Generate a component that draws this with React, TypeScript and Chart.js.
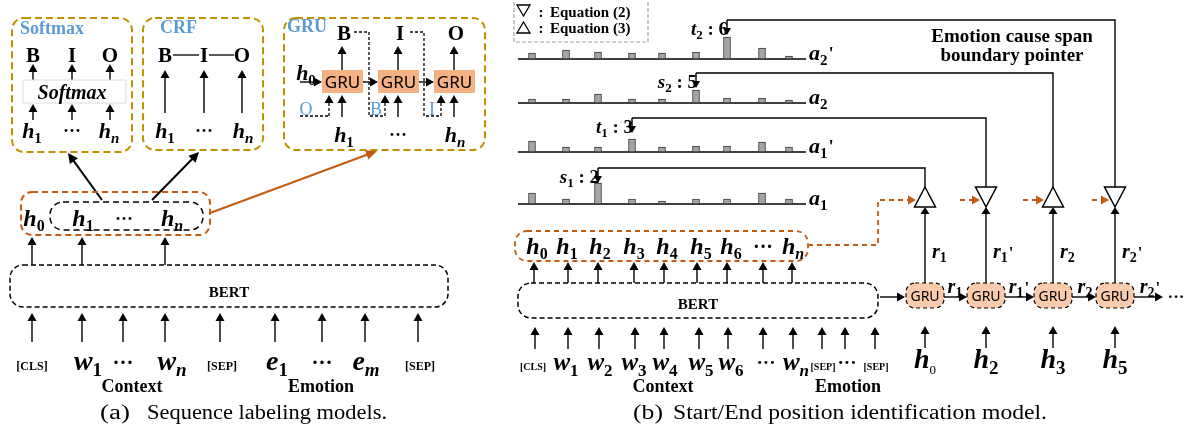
import React, { useEffect, useRef } from "react";
import { Chart, registerables } from "chart.js";

Chart.register(...registerables);

const W = 1187;
const H = 444;

// ---------------- data ----------------
const seqTokensLeft = ["[CLS]", "w1", "…", "wn", "[SEP]", "e1", "…", "em", "[SEP]"];
const hRowSubs = ["0", "1", "2", "3", "4", "5", "6", "…", "n"];
const seqTokensRight = ["[CLS]", "w1", "w2", "w3", "w4", "w5", "w6", "…", "wn", "[SEP]", "…", "[SEP]"];
const barRowNames = ["a1", "a1'", "a2", "a2'"];
const a1Scores = [11, 5, 21, 5, 3, 5, 5, 11, 5];
const a1PrimeScores = [11, 5, 5, 13, 5, 6, 6, 10, 5];
const a2Scores = [4, 4, 9, 4, 4, 13, 5, 5, 3];
const a2PrimeScores = [6, 9, 7, 6, 6, 7, 22, 11, 3];
const pointerVars = ["s", "t", "s", "t"];
const pointerSubs = ["1", "1", "2", "2"];
const pointerIndex = [2, 3, 5, 6];
const decoderSymbols = ["up", "down", "up", "down"];
const decoderRSubs = ["1", "1", "2", "2"];
const decoderRPrime = [false, true, false, true];
const decoderInputs = ["0", "2", "3", "5"];
const labelSet = ["B", "I", "O"];
const gruPrevLabels = ["O", "B", "I"];

// ---------------- layout ----------------
const SERIF = '"Liberation Serif", "Times New Roman", serif';
const SANS = '"Noto Sans", "Open Sans", sans-serif';
const GOLD = "#BF9000";
const BLUE = "#5B9BD5";
const ORANGE = "#C55A11";
const GRU_FILL_L = "#F4B183";
const GRU_FILL_R = "#F8CBAD";

const barSlotX = [532, 566, 598, 632, 662, 696, 727, 762, 789];
const rowBaseY = [204, 152, 103, 59];
const pointerLineY = [168, 118, 73, 20];
const decoderX = [925, 986, 1053, 1115];
const hRowX = [537, 567, 600, 634, 667, 701, 731, 763, 793];
const hArrowX = [534, 568, 598, 634, 664, 697, 727, 763, 792];
const inRightX = [535, 568, 599, 635, 664, 699, 728, 763, 793, 822, 845, 875];
const inRightLabelX = [533, 566, 600, 634, 665, 701, 731, 766, 796, 823, 847, 876];
const inLeftX = [32, 82, 123, 165, 220, 275, 322, 365, 418];
const inLeftLabelX = [32, 88, 123, 172, 222, 277, 322, 366, 420];

type Ctx = CanvasRenderingContext2D;

function line(ctx: Ctx, pts: number[][], color = "#000", w = 1.3, dash: number[] = []) {
  ctx.save();
  ctx.strokeStyle = color;
  ctx.lineWidth = w;
  ctx.setLineDash(dash);
  ctx.beginPath();
  pts.forEach((p, i) => (i === 0 ? ctx.moveTo(p[0], p[1]) : ctx.lineTo(p[0], p[1])));
  ctx.stroke();
  ctx.restore();
}

function head(ctx: Ctx, x: number, y: number, ang: number, len = 8, half = 4.5, color = "#000") {
  ctx.save();
  ctx.fillStyle = color;
  ctx.translate(x, y);
  ctx.rotate(ang);
  ctx.beginPath();
  ctx.moveTo(0, 0);
  ctx.lineTo(-len, -half);
  ctx.lineTo(-len, half);
  ctx.closePath();
  ctx.fill();
  ctx.restore();
}

function arrow(ctx: Ctx, x1: number, y1: number, x2: number, y2: number, color = "#000", w = 1.4, len = 8, half = 4.5, dash: number[] = []) {
  const ang = Math.atan2(y2 - y1, x2 - x1);
  const ex = x2 - Math.cos(ang) * (len - 1);
  const ey = y2 - Math.sin(ang) * (len - 1);
  line(ctx, [[x1, y1], [ex, ey]], color, w, dash);
  head(ctx, x2, y2, ang, len, half, color);
}

function rrect(ctx: Ctx, x: number, y: number, w: number, h: number, r: number, stroke: string | null, fill: string | null, dash: number[] = [], lw = 1.5) {
  ctx.save();
  ctx.beginPath();
  ctx.moveTo(x + r, y);
  ctx.lineTo(x + w - r, y);
  ctx.arcTo(x + w, y, x + w, y + r, r);
  ctx.lineTo(x + w, y + h - r);
  ctx.arcTo(x + w, y + h, x + w - r, y + h, r);
  ctx.lineTo(x + r, y + h);
  ctx.arcTo(x, y + h, x, y + h - r, r);
  ctx.lineTo(x, y + r);
  ctx.arcTo(x, y, x + r, y, r);
  ctx.closePath();
  if (fill) {
    ctx.fillStyle = fill;
    ctx.fill();
  }
  if (stroke) {
    ctx.strokeStyle = stroke;
    ctx.lineWidth = lw;
    ctx.setLineDash(dash);
    ctx.stroke();
  }
  ctx.restore();
}

function txt(ctx: Ctx, s: string, x: number, y: number, font: string, color = "#000", align: CanvasTextAlign = "center") {
  ctx.save();
  ctx.font = font;
  ctx.fillStyle = color;
  ctx.textAlign = align;
  ctx.textBaseline = "alphabetic";
  ctx.fillText(s, x, y);
  ctx.restore();
}

function fitText(ctx: Ctx, s: string, x: number, y: number, font: string, width: number) {
  ctx.save();
  ctx.font = font;
  ctx.fillStyle = "#000";
  ctx.textAlign = "left";
  ctx.textBaseline = "alphabetic";
  const m = ctx.measureText(s).width;
  ctx.translate(x, y);
  ctx.scale(width / m, 1);
  ctx.fillText(s, 0, 0);
  ctx.restore();
}

function dots(ctx: Ctx, x: number, y: number, size: number) {
  txt(ctx, "···", x, y, `bold ${size}px ${SERIF}`);
}

function mvar(
  ctx: Ctx, x: number, y: number, main: string, sub: string, size: number,
  o: { align?: "center" | "left" | "right"; prime?: boolean; subItalic?: boolean; subScale?: number; subBold?: boolean } = {}
) {
  const mf = `italic bold ${size}px ${SERIF}`;
  const ss = Math.round(size * (o.subScale ?? 0.68));
  const sf = `${o.subItalic ? "italic " : ""}${o.subBold === false ? "" : "bold "}${ss}px ${SERIF}`;
  const pf = `bold ${Math.round(size * 0.85)}px ${SERIF}`;
  ctx.save();
  ctx.font = mf;
  const wm = ctx.measureText(main).width;
  ctx.font = sf;
  const ws = sub ? ctx.measureText(sub).width : 0;
  ctx.font = pf;
  const wp = o.prime ? ctx.measureText("'").width + 1 : 0;
  const total = wm + ws + wp;
  let sx = x - total / 2;
  if (o.align === "left") sx = x;
  if (o.align === "right") sx = x - total;
  ctx.fillStyle = "#000";
  ctx.textAlign = "left";
  ctx.textBaseline = "alphabetic";
  ctx.font = mf;
  ctx.fillText(main, sx, y);
  if (sub) {
    ctx.font = sf;
    ctx.fillText(sub, sx + wm, y + size * 0.22);
  }
  if (o.prime) {
    ctx.font = pf;
    ctx.fillText("'", sx + wm + ws + 1, y - size * 0.02);
  }
  ctx.restore();
  return total;
}

function token(ctx: Ctx, t: string, x: number, y: number, size: number, small: number) {
  if (t.startsWith("[")) {
    txt(ctx, t, x, y, `bold ${small}px ${SERIF}`);
  } else if (t === "…") {
    dots(ctx, x, y - 1, Math.round(size * 0.75));
  } else {
    const sub = t.slice(1);
    mvar(ctx, x, y, t[0], sub, size, { subItalic: /[a-z]/.test(sub) });
  }
}

function triangle(ctx: Ctx, cx: number, top: number, up: boolean) {
  const hw = 10.5;
  const h = 20;
  ctx.save();
  ctx.fillStyle = "#fff";
  ctx.strokeStyle = "#000";
  ctx.lineWidth = 1.5;
  ctx.beginPath();
  if (up) {
    ctx.moveTo(cx, top);
    ctx.lineTo(cx + hw, top + h);
    ctx.lineTo(cx - hw, top + h);
  } else {
    ctx.moveTo(cx - hw, top);
    ctx.lineTo(cx + hw, top);
    ctx.lineTo(cx, top + h);
  }
  ctx.closePath();
  ctx.fill();
  ctx.stroke();
  ctx.restore();
}

function smallTri(ctx: Ctx, x: number, y: number, up: boolean) {
  ctx.save();
  ctx.strokeStyle = "#000";
  ctx.lineWidth = 1.3;
  ctx.beginPath();
  if (up) {
    ctx.moveTo(x + 6.5, y);
    ctx.lineTo(x + 13, y + 11);
    ctx.lineTo(x, y + 11);
  } else {
    ctx.moveTo(x, y);
    ctx.lineTo(x + 13, y);
    ctx.lineTo(x + 6.5, y + 11);
  }
  ctx.closePath();
  ctx.stroke();
  ctx.restore();
}

function drawLeft(ctx: Ctx) {
  // Softmax panel
  rrect(ctx, 12, 18, 120, 134, 12, GOLD, null, [7, 4], 2);
  txt(ctx, "Softmax", 20, 34, `bold 18px ${SERIF}`, BLUE, "left");
  const smX = [33, 72, 110];
  labelSet.forEach((l, i) => {
    txt(ctx, l, smX[i], 62, `bold 21px ${SERIF}`);
    arrow(ctx, smX[i], 80, smX[i], 64);
    arrow(ctx, smX[i], 120, smX[i], 104);
  });
  rrect(ctx, 23, 80, 103, 23, 0, "#D6DCE5", "#fff", [], 1);
  txt(ctx, "Softmax", 72, 99, `italic bold 20px ${SERIF}`);
  mvar(ctx, 32, 138, "h", "1", 22);
  dots(ctx, 72, 137, 18);
  mvar(ctx, 109, 138, "h", "n", 22, { subItalic: true });

  // CRF panel
  rrect(ctx, 143, 18, 120, 132, 12, GOLD, null, [7, 4], 2);
  txt(ctx, "CRF", 160, 33, `bold 18px ${SERIF}`, BLUE, "left");
  const crfX = [165, 204, 242];
  labelSet.forEach((l, i) => {
    txt(ctx, l, crfX[i], 62, `bold 21px ${SERIF}`);
    arrow(ctx, crfX[i], 113, crfX[i], 70);
  });
  line(ctx, [[173, 55], [199, 55]], "#000", 1.3);
  line(ctx, [[209, 55], [234, 55]], "#000", 1.3);
  mvar(ctx, 165, 138, "h", "1", 22);
  dots(ctx, 204, 137, 18);
  mvar(ctx, 243, 138, "h", "n", 22, { subItalic: true });

  // GRU panel
  rrect(ctx, 284, 18, 201, 132, 12, GOLD, null, [7, 4], 2);
  txt(ctx, "GRU", 287, 32, `bold 18px ${SERIF}`, BLUE, "left");
  const gruL = [322, 378, 434];
  gruL.forEach((gx, k) => {
    const ox = gx + 20;
    rrect(ctx, gx, 70, 41, 23, 0, null, GRU_FILL_L);
    txt(ctx, "GRU", gx + 20.5, 88, `17px ${SANS}`);
    arrow(ctx, ox, 70, ox, 46);
    txt(ctx, labelSet[k], ox + 2, 40, `bold 21px ${SERIF}`);
    arrow(ctx, ox, 117, ox, 95);
    // previous-label input
    const px = gx + 7;
    line(ctx, [[px, 116], [px, 103]], "#000", 1.3, [3, 2]);
    head(ctx, px, 95, -Math.PI / 2, 8, 4.5);
  });
  // dashed feedback connectors
  line(ctx, [[300, 116], [329, 116]], "#000", 1.3, [3, 2]);
  txt(ctx, gruPrevLabels[0], 306, 115, `18px ${SERIF}`, BLUE);
  line(ctx, [[354, 32], [369, 32], [369, 116], [385, 116]], "#000", 1.3, [3, 2]);
  txt(ctx, gruPrevLabels[1], 376, 115, `18px ${SERIF}`, BLUE);
  line(ctx, [[410, 32], [424, 32], [424, 116], [441, 116]], "#000", 1.3, [3, 2]);
  txt(ctx, gruPrevLabels[2], 432, 115, `18px ${SERIF}`, BLUE);
  arrow(ctx, 300, 82, 322, 82);
  arrow(ctx, 363, 82, 378, 82);
  arrow(ctx, 419, 82, 434, 82);
  mvar(ctx, 306, 80, "h", "0", 22);
  mvar(ctx, 344, 142, "h", "1", 22);
  dots(ctx, 398, 141, 18);
  mvar(ctx, 455, 142, "h", "n", 22, { subItalic: true });

  // connections up
  arrow(ctx, 102, 200, 68, 153, "#000", 2, 10, 5);
  arrow(ctx, 152, 200, 199, 152, "#000", 2, 10, 5);
  arrow(ctx, 210, 213, 377, 151, ORANGE, 2, 11, 5);

  // h box
  rrect(ctx, 21, 192, 189, 43, 11, ORANGE, null, [6, 4], 2);
  rrect(ctx, 50, 202, 153, 28, 13, "#000", null, [6, 4], 1.5);
  mvar(ctx, 34, 226, "h", "0", 24);
  mvar(ctx, 83, 226, "h", "1", 24);
  dots(ctx, 124, 225, 18);
  mvar(ctx, 172, 226, "h", "n", 24, { subItalic: true });
  [32, 82, 165].forEach((x) => arrow(ctx, x, 265, x, 237));

  // BERT
  rrect(ctx, 10, 265, 438, 42, 13, "#000", null, [5, 3], 1.5);
  txt(ctx, "BERT", 229, 297, `bold 15px ${SERIF}`);
  inLeftX.forEach((x) => arrow(ctx, x, 342, x, 313));
  seqTokensLeft.forEach((t, i) => token(ctx, t, inLeftLabelX[i], 370, 28, 12));
  txt(ctx, "Context", 132, 392, `bold 18px ${SERIF}`);
  txt(ctx, "Emotion", 321, 392, `bold 18px ${SERIF}`);

  fitText(ctx, "(a)", 100, 419, `20px ${SERIF}`, 30);
  fitText(ctx, "Sequence labeling models.", 147, 419, `20px ${SERIF}`, 240);
}

function drawRight(ctx: Ctx, xPix: (v: number) => number) {
  // legend
  ctx.save();
  ctx.strokeStyle = "#A6A6A6";
  ctx.lineWidth = 1.2;
  ctx.setLineDash([4, 2]);
  ctx.strokeRect(514, -2, 134, 44);
  ctx.restore();
  smallTri(ctx, 517, 5, false);
  smallTri(ctx, 517, 22, true);
  txt(ctx, ":", 541, 17, `bold 15px ${SERIF}`);
  txt(ctx, ":", 541, 33, `bold 15px ${SERIF}`);
  txt(ctx, "Equation (2)", 550, 17, `bold 15px ${SERIF}`, "#000", "left");
  txt(ctx, "Equation (3)", 550, 33, `bold 15px ${SERIF}`, "#000", "left");

  // row labels
  barRowNames.forEach((n, r) => {
    mvar(ctx, 809, rowBaseY[r] + 1, "a", n.slice(1, 2), 22, { align: "left", prime: n.endsWith("'") });
  });

  // pointers
  pointerIndex.forEach((idx, r) => {
    const ax = xPix(barSlotX[idx]);
    const ly = pointerLineY[r];
    const cx = decoderX[r];
    line(ctx, [[ax, ly], [cx, ly], [cx, 187]], "#000", 1.4);
    arrow(ctx, ax, ly, ax, ly + 15, "#000", 1.4, 7, 4);
    ctx.save();
    ctx.font = `bold 19px ${SERIF}`;
    const tail = ` : ${idx}`;
    const wt = ctx.measureText(tail).width;
    ctx.restore();
    const right = ax + 1;
    txt(ctx, tail, right, ly + 15, `bold 19px ${SERIF}`, "#000", "right");
    mvar(ctx, right - wt, ly + 15, pointerVars[r], pointerSubs[r], 19, { align: "right" });
  });

  txt(ctx, "Emotion cause span", 1012, 42, `bold 19px ${SERIF}`);
  txt(ctx, "boundary pointer", 1012, 61, `bold 19px ${SERIF}`);

  // decoder columns
  const orangeStart = [0, 960, 1023, 1092];
  const orangeTip = [916, 980, 1044, 1109];
  decoderX.forEach((cx, k) => {
    line(ctx, [[cx, 283], [cx, 213]], "#000", 1.4);
    head(ctx, cx, 207, -Math.PI / 2, 7, 4.5);
    triangle(ctx, cx, 187, decoderSymbols[k] === "up");
    if (k > 0) {
      line(ctx, [[orangeStart[k], 200], [orangeTip[k] - 7, 200]], ORANGE, 1.8, [5, 4]);
      head(ctx, orangeTip[k], 200, 0, 8, 4.5, ORANGE);
    }
    mvar(ctx, cx + 7, 258, "r", decoderRSubs[k], 20, { align: "left", prime: decoderRPrime[k] });
    rrect(ctx, cx - 19, 283, 38, 25, 9, "#000", GRU_FILL_R, [4, 3], 1.2);
    txt(ctx, "GRU", cx, 301, `14px ${SANS}`);
    arrow(ctx, cx, 348, cx, 326);
    mvar(ctx, cx, 368, "h", decoderInputs[k], 28, { subScale: k === 0 ? 0.45 : 0.68, subBold: k !== 0 });
  });
  line(ctx, [[808, 245], [878, 245], [878, 200], [909, 200]], ORANGE, 1.8, [5, 4]);
  head(ctx, orangeTip[0], 200, 0, 8, 4.5, ORANGE);

  // horizontal chain
  arrow(ctx, 880, 297, 905, 297);
  const rLabX = [955, 1019, 1085, 1150];
  decoderX.forEach((cx, k) => {
    const next = k < 3 ? decoderX[k + 1] - 19 : 1163;
    arrow(ctx, cx + 19, 297, next, 297);
    mvar(ctx, rLabX[k], 293, "r", decoderRSubs[k], 20, { prime: decoderRPrime[k] });
  });
  dots(ctx, 1176, 302, 17);

  // h row
  rrect(ctx, 515, 231, 293, 30, 12, ORANGE, null, [5, 4], 1.8);
  hRowSubs.forEach((s, i) => {
    if (s === "…") dots(ctx, hRowX[i], 253, 20);
    else mvar(ctx, hRowX[i], 254, "h", s, 24, { subItalic: s === "n" });
  });
  hArrowX.forEach((x) => arrow(ctx, x, 283, x, 262));

  // BERT right
  rrect(ctx, 518, 283, 360, 35, 13, "#000", null, [5, 3], 1.5);
  txt(ctx, "BERT", 698, 309, `bold 15px ${SERIF}`);
  inRightX.forEach((x) => arrow(ctx, x, 349, x, 327));
  seqTokensRight.forEach((t, i) => token(ctx, t, inRightLabelX[i], 370, 25, 10));
  txt(ctx, "Context", 663, 392, `bold 18px ${SERIF}`);
  txt(ctx, "Emotion", 848, 392, `bold 18px ${SERIF}`);

  fitText(ctx, "(b)", 633, 419, `20px ${SERIF}`, 30);
  fitText(ctx, "Start/End position identification model.", 673, 419, `20px ${SERIF}`, 374);
}

const diagramPlugin = {
  id: "diagram",
  beforeDatasetsDraw(chart: any) {
    const ctx: Ctx = chart.ctx;
    const xs = chart.scales.x;
    const ys = chart.scales.y;
    ctx.save();
    ctx.fillStyle = "#fff";
    ctx.fillRect(0, 0, chart.width, chart.height);
    ctx.restore();
    rowBaseY.forEach((b) => {
      const y = ys.getPixelForValue(b);
      line(ctx, [[xs.getPixelForValue(518), y], [xs.getPixelForValue(806), y]], "#000", 1.3);
    });
  },
  afterDatasetsDraw(chart: any) {
    const ctx: Ctx = chart.ctx;
    const xs = chart.scales.x;
    drawLeft(ctx);
    drawRight(ctx, (v: number) => xs.getPixelForValue(v));
  },
};

export default function App() {
  const ref = useRef<HTMLCanvasElement>(null);
  useEffect(() => {
    document.body.style.margin = "0";
    const rows = [a1Scores, a1PrimeScores, a2Scores, a2PrimeScores];
    const datasets = rows.map((vals, r) => ({
      type: "bar" as const,
      label: barRowNames[r],
      data: vals.map((v, i) => ({ x: barSlotX[i], y: [rowBaseY[r], rowBaseY[r] - v] })),
      backgroundColor: "#A5A5A5",
      borderColor: "#3A3A3A",
      borderWidth: 1,
      borderSkipped: false,
      barThickness: 7,
      grouped: false,
    }));
    const chart = new Chart(ref.current as HTMLCanvasElement, {
      type: "bar",
      data: { datasets: datasets as any },
      options: {
        responsive: false,
        maintainAspectRatio: false,
        animation: false,
        events: [],
        layout: { padding: 0 },
        plugins: { legend: { display: false }, tooltip: { enabled: false }, title: { display: false } },
        scales: {
          x: { type: "linear", min: 0, max: W, display: false, offset: false, grid: { offset: false } },
          y: { type: "linear", min: 0, max: H, reverse: true, display: false },
        },
      } as any,
      plugins: [diagramPlugin],
    });
    return () => chart.destroy();
  }, []);
  return (
    <canvas
      ref={ref}
      width={W}
      height={H}
      style={{ position: "absolute", left: 0, top: 0, width: W, height: H, background: "#fff" }}
    />
  );
}
